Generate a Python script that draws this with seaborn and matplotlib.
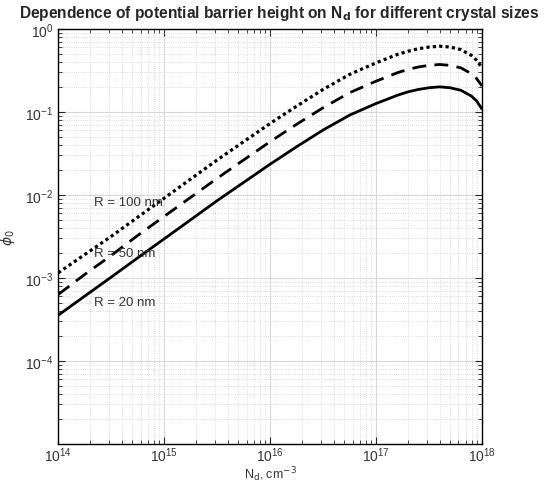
import numpy as np
import pandas as pd
import matplotlib
matplotlib.use("Agg")
import matplotlib.pyplot as plt
import seaborn as sns

# donor concentration, cm^-3
nd = [1e14, 1.78e14, 3.16e14, 5.62e14, 1e15, 1.78e15, 3.16e15, 5.62e15,
      1e16, 1.78e16, 3.16e16, 5.62e16, 1e17, 1.26e17, 1.58e17, 2.0e17,
      2.51e17, 3.16e17, 3.98e17, 5.01e17, 6.31e17, 7.94e17, 8.91e17, 1e18]

# barrier height phi_0 for each crystal radius
phi_r20 = [3.55e-4, 6.03e-4, 1.02e-3, 1.74e-3, 2.95e-3, 5.01e-3, 8.51e-3, 0.0141,
           0.0234, 0.0380, 0.0603, 0.0912, 0.126, 0.141, 0.158, 0.174,
           0.186, 0.195, 0.200, 0.195, 0.182, 0.155, 0.135, 0.108]
phi_r50 = [6.31e-4, 1.10e-3, 1.86e-3, 3.24e-3, 5.50e-3, 9.33e-3, 0.0158, 0.0263,
           0.0437, 0.0708, 0.112, 0.170, 0.234, 0.263, 0.295, 0.324,
           0.347, 0.363, 0.372, 0.363, 0.339, 0.288, 0.251, 0.205]
phi_r100 = [1.15e-3, 1.91e-3, 3.16e-3, 5.37e-3, 9.12e-3, 0.0155, 0.0263, 0.0437,
            0.0724, 0.117, 0.186, 0.282, 0.389, 0.437, 0.490, 0.537,
            0.575, 0.603, 0.617, 0.603, 0.562, 0.479, 0.417, 0.340]

labels = ["R = 20 nm", "R = 50 nm", "R = 100 nm"]
label_y = [5.1e-4, 2.0e-3, 8.3e-3]

sns.set_style("ticks")
plt.rcParams["font.family"] = ["Liberation Sans", "DejaVu Sans"]

fig = plt.figure(figsize=(5.44, 4.81), dpi=100)
ax = fig.add_axes([0.107, 0.075, 0.779, 0.863])

df = pd.DataFrame({"nd": nd, "r20": phi_r20, "r50": phi_r50, "r100": phi_r100})

sns.lineplot(data=df, x="nd", y="r20", ax=ax, color="black", lw=2, linestyle="-")
sns.lineplot(data=df, x="nd", y="r50", ax=ax, color="black", lw=2,
             linestyle=(0, (5, 3)))
sns.lineplot(data=df, x="nd", y="r100", ax=ax, color="black", lw=2.3,
             linestyle=(0, (1, 1)))

ax.set_xscale("log")
ax.set_yscale("log")
ax.set_xlim(1e14, 1e18)
ax.set_ylim(1e-5, 1)
ax.set_yticks([1e-4, 1e-3, 1e-2, 1e-1, 1e0])

ax.grid(True, which="major", color="#d8d8d8", lw=0.8, ls="-")
ax.grid(True, which="minor", color="#d0d0d0", lw=0.6, ls=":")
ax.set_axisbelow(True)

ax.tick_params(which="both", direction="in", top=True, right=True,
               labelsize=10, labelcolor="#333333")
ax.tick_params(axis="x", pad=1)
ax.tick_params(which="major", length=5, width=0.8)
ax.tick_params(which="minor", length=3, width=0.6)
for sp in ax.spines.values():
    sp.set_color("black")
    sp.set_linewidth(1.0)

for lab, yv in zip(labels, label_y):
    ax.text(2.2e14, yv, lab, fontsize=9.5, color="#333333", va="center", ha="left")

ax.set_ylabel(r"$\phi_0$", fontsize=10, color="#333333", labelpad=6)
ax.set_xlabel(r"N$_\mathrm{d}$, cm$^{-3}$", fontsize=9, color="#333333", labelpad=0)
fig.text(0.513, 0.972, r"Dependence of potential barrier height on N$_\mathbf{d}$ for different crystal sizes",
         ha="center", va="center", fontsize=11.2, fontweight="bold")

fig.savefig("out.png", dpi=100)
